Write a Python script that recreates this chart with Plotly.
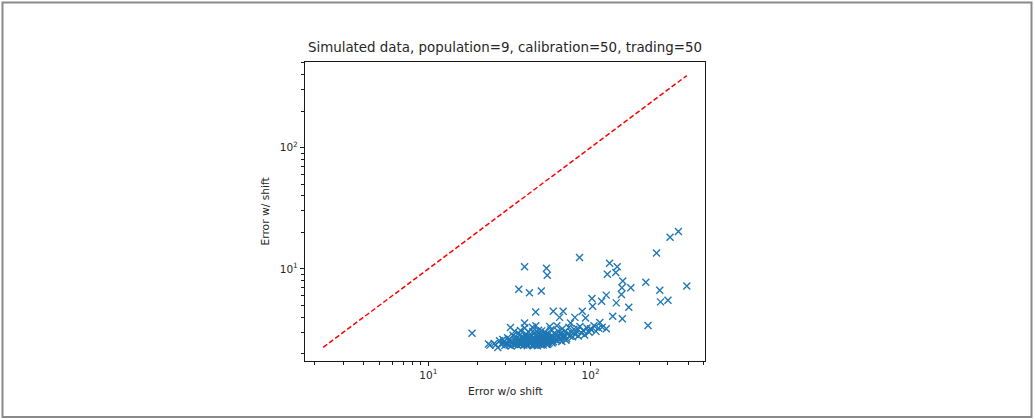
import numpy as np
import plotly.graph_objects as go

# Per-run errors: without the shift (x) and with the shift (y)
err_no_shift = [
    # scattered runs
    18.6, 39.2, 53.5, 54.1, 85.5, 255, 36.1, 42.0, 49.7, 131,
    146, 127, 143, 158, 219, 392, 267, 156, 177, 270,
    300, 155, 125, 144, 172, 117, 102, 103, 137, 157,
    226, 114, 100, 93.1, 88.9, 80.0, 67.8, 58.9, 45.9, 64.4,
    39.2, 32.1, 75.3, 82.8, 309, 348,
    # dense group
    24.0, 25.5, 26.8, 27.5, 28.3, 29.0, 29.6, 23.5, 26.0, 28.8,
    30.2, 30.8, 31.5, 32.0, 32.7, 33.3, 33.8, 34.4, 35.0, 35.6, 31.2, 34.0, 35.3, 32.4, 36.0,
    36.5, 36.9, 37.3, 37.8, 38.2, 38.7, 39.1, 39.6, 40.0, 40.4, 40.9, 41.3, 41.8, 37.0, 39.3, 40.7, 41.5, 38.5, 36.3,
    42.2, 42.7, 43.1, 43.6, 44.0, 44.5, 45.0, 45.4, 45.9, 46.4, 46.8, 47.3, 47.8, 48.2, 48.7, 49.2, 49.6, 43.8, 46.0, 48.9, 44.8, 47.0,
    50.3, 50.9, 51.5, 52.0, 52.6, 53.2, 53.8, 54.5, 55.1, 55.7, 56.4, 57.0, 57.6, 58.3, 59.0, 59.6, 51.2, 54.0, 56.0, 58.6,
    60.5, 61.4, 62.3, 63.2, 64.1, 65.0, 66.0, 67.0, 68.0, 69.0, 70.0, 71.2, 72.4, 73.6, 74.8, 62.0, 66.5, 70.5,
    76.0, 77.5, 79.0, 80.5, 82.0, 84.0, 86.0, 88.0, 90.0, 92.0, 95.0, 98.0, 101, 105, 108, 112, 118, 125,
    33.0, 35.8, 37.5, 39.8, 41.0, 42.5, 43.3, 44.2, 45.2, 46.2, 47.5, 48.5, 49.9, 51.0, 52.3, 53.5, 54.8, 56.8, 58.0,
    38.0, 40.2, 43.0, 45.7, 48.0, 50.6, 53.0, 55.4, 29.3, 31.8, 34.7, 36.7, 61.0, 64.8, 67.5, 44.0, 47.6, 50.0, 52.8,
]

err_shift = [
    # scattered runs
    2.94, 10.4, 10.1, 8.86, 12.4, 13.5, 6.78, 6.35, 6.56, 11.1,
    10.4, 9.03, 9.31, 7.94, 7.74, 7.21, 6.65, 6.98, 6.98, 5.34,
    5.52, 6.15, 6.07, 5.24, 4.82, 5.41, 5.70, 4.92, 4.06, 3.88,
    3.41, 3.61, 3.20, 3.93, 4.47, 3.98, 4.47, 4.47, 4.41, 3.98,
    3.57, 3.29, 3.57, 3.20, 18.2, 20.3,
    # dense group
    2.35, 2.42, 2.25, 2.55, 2.38, 2.47, 2.33, 2.40, 2.36, 2.62,
    2.41, 2.70, 2.35, 2.52, 2.44, 2.83, 2.38, 2.60, 2.49, 2.33, 2.58, 3.05, 2.72, 2.31, 2.95,
    2.45, 2.62, 2.38, 2.78, 2.51, 2.35, 2.66, 2.44, 2.90, 2.55, 2.37, 2.72, 2.48, 3.10, 3.25, 2.32, 3.00, 2.57, 2.40,
    2.58, 2.41, 2.85, 2.50, 2.34, 2.67, 2.95, 2.46, 2.60, 2.38, 2.77, 2.53, 3.12, 2.42, 2.65, 2.88, 2.36, 3.30, 3.40, 2.55, 2.44, 2.32,
    2.60, 2.45, 2.80, 2.52, 3.00, 2.40, 2.70, 2.57, 2.90, 2.47, 2.65, 3.15, 2.55, 2.78, 2.50, 2.95, 2.35, 2.38, 3.35, 2.62,
    2.70, 2.88, 2.58, 3.05, 2.75, 2.62, 2.95, 3.20, 2.70, 2.85, 3.05, 2.65, 2.92, 3.30, 2.78, 3.40, 2.52, 2.58,
    3.00, 2.75, 3.18, 2.88, 3.05, 2.80, 3.35, 2.95, 3.10, 2.85, 3.25, 3.00, 3.15, 3.40, 3.05, 3.25, 3.30, 3.20,
    2.50, 2.56, 2.47, 2.39, 2.61, 2.72, 2.45, 2.55, 2.36, 2.49, 2.42, 2.71, 2.45, 2.52, 2.63, 2.48, 2.41, 2.55, 2.45,
    2.68, 2.75, 2.62, 2.82, 2.68, 2.78, 2.87, 2.73, 2.52, 2.63, 2.40, 2.85, 2.60, 2.90, 2.80, 3.05, 2.95, 3.08, 2.58,
]

major_ticks = [10, 100]
major_text = ["10<sup>1</sup>", "10<sup>2</sup>"]
minor_ticks = [2, 3, 4, 5, 6, 7, 8, 9, 20, 30, 40, 50, 60, 70, 80, 90, 200, 300, 400, 500]

# identity line spanning all observed errors
lo = min(min(err_no_shift), min(err_shift))
hi = max(max(err_no_shift), max(err_shift))
pad = 0.05 * (np.log10(hi) - np.log10(lo))
axis_range = [np.log10(lo) - pad, np.log10(hi) + pad]

W, H = 1035, 419
L, R, T, B = 305, 705, 62, 361
FONT = "DejaVu Sans"
TXT = "#262626"

fig = go.Figure()
fig.add_trace(go.Scatter(
    x=[lo, hi], y=[lo, hi], mode="lines",
    line=dict(color="#ff0000", width=1.5, dash="5px,2.5px"),
    hoverinfo="skip",
))
fig.add_trace(go.Scatter(
    x=err_no_shift, y=err_shift, mode="markers",
    marker=dict(symbol="x-thin", size=7, color="#1f77b4",
                line=dict(width=1.4, color="#1f77b4")),
))

axis_common = dict(
    type="log", range=axis_range, showgrid=False, zeroline=False,
    showline=True, mirror=True, linecolor="#1a1a1a", linewidth=1.2,
    ticks="outside", ticklen=4, tickwidth=1, tickcolor="#1a1a1a",
    tickmode="array", tickvals=major_ticks, ticktext=major_text,
    tickfont=dict(family=FONT, size=10.5, color=TXT),
    minor=dict(tickmode="array", tickvals=minor_ticks, ticks="outside",
               ticklen=2.5, tickwidth=0.9, tickcolor="#1a1a1a", showgrid=False),
)

fig.update_layout(
    width=W, height=H,
    margin=dict(l=L, r=W - R, t=T, b=H - B, pad=0),
    paper_bgcolor="#ffffff", plot_bgcolor="#ffffff",
    showlegend=False,
    xaxis=axis_common,
    yaxis=axis_common,
    title=dict(
        text="Simulated data, population=9, calibration=50, trading=50",
        x=(L + R) / 2 / W, xanchor="center", xref="container",
        y=1 - 47 / H, yanchor="middle", yref="container",
        font=dict(family=FONT, size=13.4, color=TXT),
    ),
    annotations=[
        dict(text="Error w/o shift", xref="paper", yref="paper",
             x=0.5, y=(B - 391) / (B - T), xanchor="center", yanchor="middle",
             showarrow=False, font=dict(family=FONT, size=10.7, color=TXT)),
        dict(text="Error w/ shift", xref="paper", yref="paper",
             x=(265 - L) / (R - L), y=0.5, xanchor="center", yanchor="middle",
             textangle=-90, showarrow=False,
             font=dict(family=FONT, size=10.7, color=TXT)),
    ],
    shapes=[
        dict(type="rect", xref="paper", yref="paper",
             x0=(2.5 - L) / (R - L), x1=(1031.5 - L) / (R - L),
             y0=(B - 417) / (B - T), y1=(B - 2.5) / (B - T),
             line=dict(color="#8a8a8a", width=2), fillcolor="rgba(0,0,0,0)",
             layer="below"),
    ],
)

fig.write_html("out.html")
